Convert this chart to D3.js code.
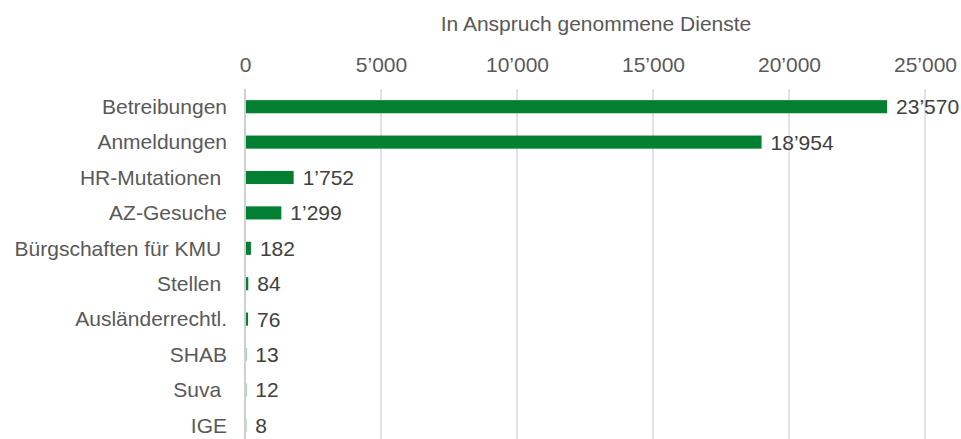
<!DOCTYPE html>
<html lang="de">
<head>
    <meta charset="UTF-8">
    <title>In Anspruch genommene Dienste</title>
    <script src="https://d3js.org/d3.v7.min.js"></script>
    <style>
        body { margin: 0; background: #fff; }
        svg { display: block; font-family: "Liberation Sans", Arial, sans-serif; }
        .cat text { white-space: pre; }
    </style>
</head>
<body>
    <div id="chart"></div>
    <script>
        const categories = ["Betreibungen", "Anmeldungen", "HR-Mutationen ", "AZ-Gesuche", "Bürgschaften für KMU ",
            "Stellen ", "Ausländerrechtl.", "SHAB", "Suva ", "IGE"];
        const values = [23570, 18954, 1752, 1299, 182, 84, 76, 13, 12, 8];
        const tickValues = [0, 5000, 10000, 15000, 20000, 25000];
        const title = "In Anspruch genommene Dienste";

        const W = 961, H = 439;
        const FONT = "'Liberation Sans', Arial, sans-serif";
        const svg = d3.select("#chart").append("svg").attr("width", W).attr("height", H);

        const locale = d3.formatLocale({ decimal: ".", thousands: "\u2019", grouping: [3], currency: ["", ""] });
        const fmt = locale.format(",d");

        const x = d3.scaleLinear().domain([0, 25000]).range([245, 925]);
        const y = d3.scaleBand().domain(categories).range([89, 443])
            .paddingInner(0.63).paddingOuter(0.315);

        // gridlines
        svg.append("g").selectAll("line")
            .data(tickValues)
            .enter().append("line")
            .attr("x1", d => x(d)).attr("x2", d => x(d))
            .attr("y1", 89).attr("y2", H)
            .attr("stroke", d => d === 0 ? "#bfbfbf" : "#d9d9d9")
            .attr("stroke-width", 1.5);

        // top axis labels
        const xAxis = svg.append("g")
            .attr("transform", "translate(0,72)")
            .call(d3.axisTop(x).tickValues(tickValues).tickFormat(fmt).tickSize(0).tickPadding(0));
        xAxis.select(".domain").remove();
        xAxis.selectAll("text")
            .attr("font-size", 21).attr("fill", "#595959")
            .attr("font-family", FONT)
            .attr("dy", 0);

        svg.append("text")
            .attr("x", 596).attr("y", 31)
            .attr("text-anchor", "middle")
            .attr("font-size", 21).attr("fill", "#595959")
            .attr("font-family", FONT)
            .text(title);

        // category labels
        const yAxis = svg.append("g")
            .attr("class", "cat")
            .attr("transform", "translate(227,0)")
            .call(d3.axisLeft(y).tickSize(0).tickPadding(0));
        yAxis.select(".domain").remove();
        yAxis.selectAll("text")
            .attr("font-size", 21).attr("fill", "#595959")
            .attr("font-family", FONT)
            .attr("dy", "0.35em");

        // bars
        svg.append("g").selectAll("rect")
            .data(values)
            .enter().append("rect")
            .attr("x", x(0) + 1)
            .attr("y", (d, i) => y(categories[i]))
            .attr("width", d => x(d) - x(0))
            .attr("height", y.bandwidth())
            .attr("fill", "#027f31");

        // value labels
        svg.append("g").selectAll("text")
            .data(values)
            .enter().append("text")
            .attr("x", d => x(d) + 10)
            .attr("y", (d, i) => y(categories[i]) + y.bandwidth() / 2)
            .attr("dy", "0.36em")
            .attr("font-size", 21).attr("fill", "#404040")
            .attr("font-family", FONT)
            .text(d => fmt(d));
    </script>
</body>
</html>
